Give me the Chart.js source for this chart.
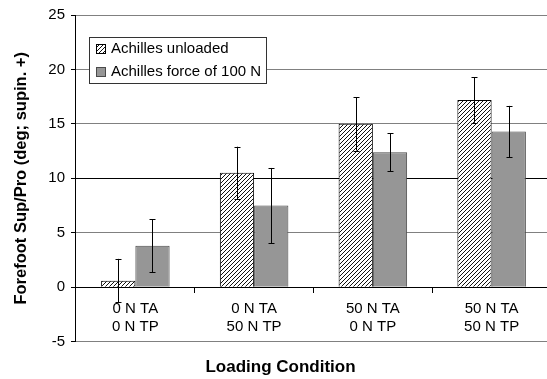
<!DOCTYPE html>
<html>
<head>
<meta charset="utf-8">
<script src="https://cdn.jsdelivr.net/npm/chart.js@4"></script>
<style>
  html, body { margin: 0; padding: 0; background: #fff; overflow: hidden; }
  canvas { display: block; }
</style>
</head>
<body>
<canvas id="myChart" width="552" height="379" style="width:552px;height:379px"></canvas>
<script>
// data
var categories = [['0 N TA', '0 N TP'], ['0 N TA', '50 N TP'], ['50 N TA', '0 N TP'], ['50 N TA', '50 N TP']];
var seriesNames = ['Achilles unloaded', 'Achilles force of 100 N'];
var unloaded = [0.6, 10.5, 15.0, 17.2];
var unloadedErr = [2.0, 2.4, 2.45, 2.1];
var force100 = [3.8, 7.5, 12.4, 14.3];
var force100Err = [2.45, 3.45, 1.75, 2.35];
var yMin = -5, yMax = 25, yStep = 5;

var FONT = 'Liberation Sans, Arial, sans-serif';

// diagonal hatch fill
function makeHatch() {
    var c = document.createElement('canvas');
    c.width = 4; c.height = 4;
    var g = c.getContext('2d');
    g.fillStyle = '#fff';
    g.fillRect(0, 0, 4, 4);
    g.fillStyle = '#111';
    g.fillRect(3, 0, 1, 1);
    g.fillRect(2, 1, 1, 1);
    g.fillRect(1, 2, 1, 1);
    g.fillRect(0, 3, 1, 1);
    return g.createPattern(c, 'repeat');
}
var hatch = makeHatch();

var errorBars = {
    id: 'errorBars',
    afterDatasetsDraw: function (chart) {
        var ctx = chart.ctx;
        var y = chart.scales.y;
        ctx.save();
        ctx.strokeStyle = '#000';
        ctx.lineWidth = 1;
        chart.data.datasets.forEach(function (ds, i) {
            var meta = chart.getDatasetMeta(i);
            meta.data.forEach(function (bar, j) {
                var v = ds.data[j], e = ds.errors[j];
                var x = Math.round(bar.x) + 0.5;
                var top = y.getPixelForValue(v + e);
                var bot = y.getPixelForValue(v - e);
                ctx.beginPath();
                ctx.moveTo(x, top); ctx.lineTo(x, bot);
                ctx.moveTo(x - 3, Math.round(top) + 0.5); ctx.lineTo(x + 3, Math.round(top) + 0.5);
                ctx.moveTo(x - 3, Math.round(bot) + 0.5); ctx.lineTo(x + 3, Math.round(bot) + 0.5);
                ctx.stroke();
            });
        });
        ctx.restore();
    }
};

var boxLegend = {
    id: 'boxLegend',
    afterDraw: function (chart) {
        var ctx = chart.ctx;
        var x0 = 89.5, y0 = 37.5, w = 177, h = 46;
        ctx.save();
        ctx.fillStyle = '#fff';
        ctx.strokeStyle = '#333';
        ctx.lineWidth = 1;
        ctx.fillRect(x0, y0, w, h);
        ctx.strokeRect(x0, y0, w, h);
        ctx.font = '15px ' + FONT;
        ctx.textBaseline = 'middle';
        chart.data.datasets.forEach(function (ds, i) {
            var cy = y0 + 11.5 + i * 23;
            ctx.fillStyle = ds.backgroundColor;
            ctx.fillRect(96.5, Math.round(cy - 5) + 0.5, 9, 9);
            ctx.strokeStyle = ds.borderColor;
            ctx.strokeRect(96.5, Math.round(cy - 5) + 0.5, 9, 9);
            ctx.fillStyle = '#000';
            ctx.fillText(ds.label, 111, cy);
        });
        ctx.restore();
    }
};

var ctx = document.getElementById('myChart').getContext('2d');
var myChart = new Chart(ctx, {
    type: 'bar',
    data: {
        labels: categories,
        datasets: [{
            label: seriesNames[0],
            data: unloaded,
            errors: unloadedErr,
            backgroundColor: hatch,
            borderColor: '#000',
            borderWidth: 1
        }, {
            label: seriesNames[1],
            data: force100,
            errors: force100Err,
            backgroundColor: '#969696',
            borderColor: '#4a4a4a',
            borderWidth: 1
        }]
    },
    plugins: [errorBars, boxLegend],
    options: {
        responsive: false,
        animation: false,
        devicePixelRatio: 1,
        layout: { padding: { top: 6, left: 10, right: 1, bottom: 1 } },
        datasets: { bar: { categoryPercentage: 0.577, barPercentage: 1.0 } },
        plugins: {
            legend: { display: false },
            tooltip: { enabled: false },
            title: {
                display: true,
                position: 'bottom',
                text: 'Loading Condition',
                color: '#000',
                font: { family: FONT, size: 17, weight: 'bold' },
                padding: { top: 16, bottom: 0 }
            }
        },
        scales: {
            x: {
                position: { y: 0 },
                afterFit: function (s) { s.height = 0; },
                grid: { drawOnChartArea: false, drawTicks: true, tickLength: 5, tickColor: '#000', offset: true },
                border: { color: '#000' },
                ticks: { color: '#000', font: { family: FONT, size: 15 }, padding: 8, maxRotation: 0 }
            },
            y: {
                min: yMin,
                max: yMax,
                ticks: { stepSize: yStep, color: '#000', font: { family: FONT, size: 15 }, padding: 6 },
                grid: {
                    color: function (c) { return (c.tick && (c.tick.value === 10 || c.tick.value === 0)) ? '#000' : '#808080'; },
                    tickColor: '#000',
                    tickLength: 5
                },
                border: { color: '#000' },
                title: {
                    display: true,
                    text: 'Forefoot Sup/Pro (deg; supin. +)',
                    color: '#000',
                    font: { family: FONT, size: 16.5, weight: 'bold' },
                    padding: { top: 2, bottom: 10.5 }
                }
            }
        }
    }
});
</script>
</body>
</html>
